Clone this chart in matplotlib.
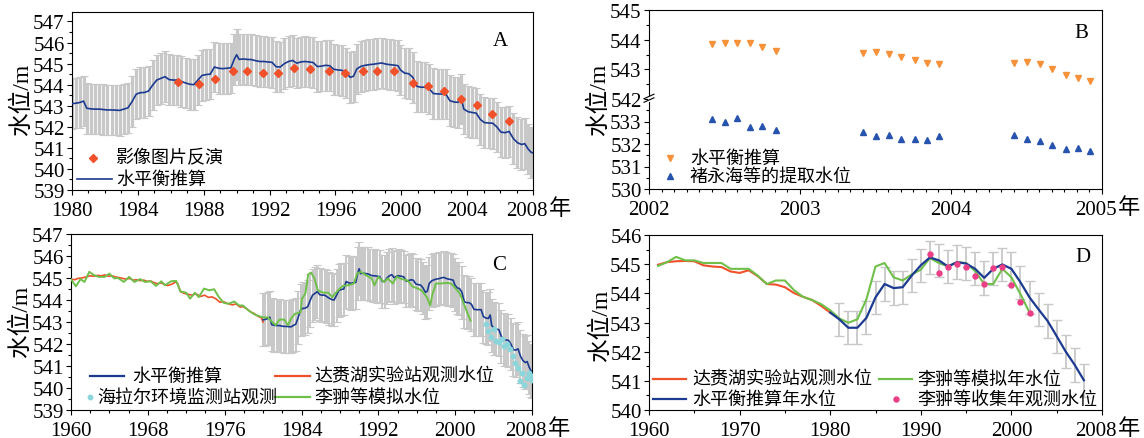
import matplotlib
matplotlib.use('Agg')
import matplotlib.pyplot as plt
from matplotlib.ticker import MultipleLocator, FixedLocator, FixedFormatter
from matplotlib.lines import Line2D
from matplotlib.transforms import ScaledTranslation

plt.rcParams['font.family'] = ['Liberation Serif', 'Noto Sans CJK SC']
plt.rcParams['axes.unicode_minus'] = False

# ------------------------------------------------------------------ data
# water-balance estimate (panels A and C)
bal_year = [1980.00, 1980.25, 1980.50, 1980.70, 1980.90, 1981.15, 1981.40, 1981.65, 1981.90,
            1982.15, 1982.40, 1982.65, 1982.90, 1983.15, 1983.40, 1983.65, 1983.90, 1984.15,
            1984.40, 1984.65, 1984.90, 1985.15, 1985.40, 1985.65, 1985.90, 1986.15, 1986.40,
            1986.65, 1986.90, 1987.15, 1987.40, 1987.65, 1987.90, 1988.15, 1988.40, 1988.65,
            1988.90, 1989.15, 1989.40, 1989.65, 1989.85, 1990.00, 1990.15, 1990.40, 1990.65,
            1990.90, 1991.15, 1991.40, 1991.65, 1991.90, 1992.15, 1992.40, 1992.65, 1992.90,
            1993.15, 1993.40, 1993.65, 1993.90, 1994.15, 1994.40, 1994.65, 1994.90, 1995.15,
            1995.40, 1995.65, 1995.90, 1996.15, 1996.40, 1996.65, 1996.90, 1997.10, 1997.30,
            1997.55, 1997.80, 1998.05, 1998.30, 1998.55, 1998.80, 1999.05, 1999.30, 1999.55,
            1999.80, 1999.95, 2000.20, 2000.45, 2000.70, 2000.95, 2001.20, 2001.45, 2001.70,
            2001.95, 2002.20, 2002.45, 2002.70, 2002.95, 2003.20, 2003.45, 2003.65, 2003.80,
            2004.05, 2004.30, 2004.55, 2004.80, 2005.05, 2005.30, 2005.55, 2005.80, 2006.05,
            2006.30, 2006.55, 2006.80, 2007.05, 2007.30, 2007.50, 2007.70, 2007.90, 2008.00]
bal_level = [543.10, 543.12, 543.16, 543.22, 542.88, 542.85, 542.84, 542.84, 542.82,
             542.80, 542.80, 542.79, 542.78, 542.84, 542.90, 543.20, 543.55, 543.62,
             543.63, 543.70, 543.98, 544.22, 544.30, 544.38, 544.24, 544.22, 544.22,
             544.15, 544.08, 544.02, 544.00, 544.22, 544.44, 544.48, 544.50, 544.84,
             544.78, 544.76, 544.78, 544.80, 545.20, 545.42, 545.20, 545.22, 545.20,
             545.19, 545.14, 545.10, 545.10, 545.08, 545.06, 544.85, 544.84, 545.00,
             545.10, 545.15, 545.02, 545.08, 545.10, 545.08, 545.05, 544.86, 544.88,
             544.92, 544.90, 544.73, 544.70, 544.68, 544.55, 544.35, 544.40, 544.75,
             544.87, 544.92, 544.95, 544.97, 545.00, 545.03, 544.98, 544.95, 544.93,
             544.90, 544.70, 544.55, 544.52, 544.35, 543.92, 543.88, 543.88, 543.80,
             543.58, 543.56, 543.56, 543.56, 543.24, 543.18, 543.16, 543.32, 542.84,
             542.72, 542.68, 542.65, 542.35, 542.20, 542.18, 542.17, 542.00, 541.75,
             541.72, 541.78, 541.45, 541.25, 541.16, 541.20, 540.95, 540.78, 540.76]
bal_err = 1.2

# image inversion (panel A)
img_year = [1986.45, 1987.73, 1988.66, 1989.78, 1990.65, 1991.58, 1992.49, 1993.49, 1994.46,
            1995.63, 1996.56, 1997.70, 1998.55, 1999.55, 2000.71, 2001.65, 2002.60, 2003.61,
            2004.61, 2005.54, 2006.54]
img_level = [544.12, 544.04, 544.25, 544.63, 544.66, 544.57, 544.54, 544.79, 544.76,
             544.66, 544.54, 544.63, 544.63, 544.65, 544.09, 543.96, 543.69, 543.34,
             543.03, 542.63, 542.28]

# panel B
b_year = [2002.42, 2002.50, 2002.58, 2002.67, 2002.75, 2002.84,
          2003.42, 2003.50, 2003.59, 2003.67, 2003.76, 2003.84, 2003.92,
          2004.42, 2004.50, 2004.59, 2004.67, 2004.76, 2004.84, 2004.92]
b_bal_level = [543.87, 543.90, 543.90, 543.90, 543.76, 543.62,
               543.54, 543.59, 543.53, 543.42, 543.32, 543.22, 543.17,
               543.20, 543.26, 543.17, 543.01, 542.80, 542.71, 542.62]
b_chu_level = [533.12, 533.00, 533.14, 532.76, 532.80, 532.64,
               532.54, 532.37, 532.40, 532.24, 532.24, 532.20, 532.35,
               532.40, 532.24, 532.13, 531.96, 531.80, 531.82, 531.67]

# panel C
c_red_year = [1960.0, 1960.4, 1960.7, 1961.1, 1961.6, 1962.0, 1962.4, 1962.8, 1963.2, 1963.5,
              1963.9, 1964.3, 1964.6, 1965.0, 1965.4, 1965.7, 1966.1, 1966.5, 1966.8, 1967.2,
              1967.6, 1967.9, 1968.3, 1968.7, 1969.0, 1969.4, 1969.8, 1970.1, 1970.5, 1970.9,
              1971.1, 1971.4, 1971.8, 1972.2, 1972.6, 1973.0, 1973.5, 1973.9, 1974.3, 1974.7,
              1975.1, 1975.5, 1975.9, 1976.3, 1976.8, 1977.2, 1977.6, 1977.9, 1978.3, 1978.7,
              1979.1, 1979.5, 1979.8, 1980.0]
c_red_level = [544.95, 544.92, 544.98, 545.00, 545.05, 545.10, 545.08, 545.12, 545.10, 545.14,
               545.08, 545.10, 545.05, 545.02, 544.98, 544.95, 544.98, 544.90, 544.92, 544.88,
               544.90, 544.85, 544.86, 544.78, 544.74, 544.78, 544.68, 544.66, 544.72, 544.82,
               544.75, 544.38, 544.30, 544.26, 544.22, 544.28, 544.16, 544.22, 544.12, 544.14,
               544.05, 543.90, 543.92, 543.84, 543.78, 543.82, 543.68, 543.70, 543.60, 543.46,
               543.38, 543.25, 543.20, 543.00]
c_green_year = [1960.0, 1960.3, 1960.5, 1961.0, 1961.4, 1961.9, 1962.4, 1962.9, 1963.5, 1964.0,
                1964.5, 1964.9, 1965.5, 1966.05, 1966.6, 1967.2, 1967.7, 1968.3, 1968.85, 1969.4,
                1969.8, 1970.4, 1970.95, 1971.4, 1972.0, 1972.4, 1972.9, 1973.3, 1973.85, 1974.4,
                1974.9, 1975.4, 1975.9, 1976.4, 1977.0, 1977.5, 1977.9, 1978.5, 1979.0, 1979.4,
                1980.0, 1980.5, 1980.9, 1981.3, 1981.7, 1982.2, 1982.6, 1982.9, 1983.3, 1983.9,
                1984.05, 1984.4, 1984.7, 1985.0, 1985.35, 1985.7, 1986.3, 1986.8, 1987.2, 1987.8,
                1988.3, 1988.9, 1989.45, 1989.8, 1990.2, 1990.7, 1991.3, 1991.6, 1992.0, 1992.6,
                1993.0, 1993.5, 1993.9, 1994.45, 1995.0, 1995.6, 1995.95, 1996.5, 1997.05, 1997.4,
                1997.6, 1998.0, 1998.55, 1999.1, 1999.55, 1999.9, 2000.5, 2000.9, 2001.25, 2001.6]
c_green_level = [544.95, 544.75, 544.62, 544.95, 544.82, 545.28, 545.13, 545.05, 545.05, 545.20,
                 544.98, 545.00, 544.82, 545.05, 544.82, 544.95, 544.82, 544.85, 544.64, 544.85,
                 544.67, 544.85, 544.87, 544.39, 544.33, 544.06, 544.33, 544.13, 544.52, 544.44,
                 544.49, 544.13, 543.87, 543.83, 543.93, 543.75, 543.75, 543.52, 543.37, 543.29,
                 543.21, 543.21, 543.02, 542.86, 543.11, 543.11, 542.86, 543.14, 543.37, 543.44,
                 544.06, 544.29, 545.16, 545.25, 544.98, 544.44, 544.33, 544.33, 544.13, 544.44,
                 544.64, 544.67, 544.75, 545.21, 545.28, 545.13, 544.98, 544.67, 545.05, 544.82,
                 544.98, 544.75, 545.05, 544.95, 544.90, 544.60, 544.55, 544.44, 544.13, 543.75,
                 544.21, 544.75, 544.75, 544.78, 544.75, 544.60, 544.29, 543.83, 543.44, 543.06]
c_cyan_year = [2003.17, 2003.47, 2003.73, 2004.0, 2004.3, 2004.6, 2004.85, 2005.1, 2005.4, 2005.7,
               2006.0, 2006.27, 2006.5, 2006.7, 2006.97, 2007.2, 2007.5, 2007.7, 2007.9, 2008.0]
c_cyan_level = [542.91, 542.60, 542.34, 542.68, 542.14, 542.07, 542.22, 541.91, 541.99, 541.76,
                541.45, 541.15, 540.92, 540.30, 540.69, 540.15, 540.46, 540.69, 540.53, 540.38]

# panel D (annual)
d_red_year = list(range(1961, 1981))
d_red_level = [544.98, 545.07, 545.10, 545.11, 545.10, 544.96, 544.92, 544.90, 544.75, 544.70,
               544.79, 544.59, 544.32, 544.30, 544.21, 544.01, 543.88, 543.77, 543.57, 543.34]
d_green_year = list(range(1961, 2003))
d_green_level = [544.94, 545.07, 545.25, 545.13, 545.13, 545.04, 545.04, 545.04, 544.84, 544.84,
                 544.84, 544.61, 544.32, 544.44, 544.44, 544.11, 543.88, 543.77, 543.63, 543.42,
                 543.14, 542.99, 543.11, 543.80, 544.92, 545.04, 544.55, 544.44, 544.65, 544.81,
                 545.21, 545.04, 544.92, 545.07, 545.04, 544.76, 544.32, 544.32, 544.84, 544.55,
                 543.97, 543.34]
d_blue_year = list(range(1980, 2009))
d_blue_level = [543.34, 543.11, 542.82, 542.82, 543.16, 543.86, 544.32, 544.18, 544.21, 544.61,
                544.96, 545.23, 545.13, 544.92, 545.07, 545.02, 544.84, 544.53, 544.84, 544.99,
                544.84, 544.38, 543.86, 543.45, 543.05, 542.53, 542.00, 541.54, 541.02]
d_blue_err = 0.57
d_pink_year = list(range(1991, 2003))
d_pink_level = [545.34, 544.69, 544.90, 544.99, 544.92, 544.58, 544.32, 544.88, 544.92, 544.30,
                543.72, 543.34]

# ------------------------------------------------------------------ style
BLUE = '#1c3a90'
GREY = '#c8c8c8'
RED = '#f0502a'
GREEN = '#6fc04a'
ORANGE = '#f7923a'
TRI_BLUE = '#2553ae'
CYAN = '#8ad6da'
PINK = '#ec3f86'

TICK_FS = 15
LEG_FS = 13
YL_FS = 17

W, H = 1144, 439
fig = plt.figure(figsize=(W / 100, H / 100), dpi=100)


def add_ax(x0, y0, x1, y1):
    return fig.add_axes([x0 / W, 1 - y1 / H, (x1 - x0) / W, (y1 - y0) / H])


def fx(px):
    return px / W


def fy(py):
    return 1 - py / H


def style(ax):
    ax.tick_params(which='both', direction='out', top=False, right=False,
                   labelsize=TICK_FS, width=0.8)
    ax.tick_params(axis='y', which='both', pad=1.5)
    ax.tick_params(axis='x', which='both', pad=3.8)
    ax.tick_params(which='major', length=3.8)
    ax.tick_params(which='minor', length=2.2)
    for s in ax.spines.values():
        s.set_linewidth(0.8)


def shift_last_xlabel(ax, dx_px=-6):
    labels = ax.get_xticklabels()
    lbl = labels[-1]
    lbl.set_transform(lbl.get_transform() + ScaledTranslation(dx_px / 100, 0, fig.dpi_scale_trans))


def leg_line(x0, x1, y, color, lw=1.6):
    fig.add_artist(Line2D([fx(x0), fx(x1)], [fy(y), fy(y)], color=color, lw=lw,
                          transform=fig.transFigure))


def leg_marker(x, y, marker, color, ms):
    fig.add_artist(Line2D([fx(x)], [fy(y)], marker=marker, color=color, ms=ms,
                          ls='none', transform=fig.transFigure))


def leg_text(x, y, s):
    fig.text(fx(x), fy(y), s, ha='left', va='center', fontsize=LEG_FS)


def year_suffix(ax, dx=27, dy=-19):
    ax.annotate('年', xy=(1, 0), xycoords='axes fraction',
                xytext=(dx * 0.72, dy * 0.72), textcoords='offset points',
                ha='center', va='center', fontsize=16)


def ylab(x, y, s='水位/m'):
    fig.text(fx(x), fy(y), s, rotation=90, ha='center', va='center', fontsize=YL_FS)


# ------------------------------------------------------------------ panel A
axA = add_ax(72, 13, 533, 191)
axA.errorbar(bal_year, bal_level, yerr=bal_err, fmt='none', ecolor=GREY,
             elinewidth=2.3, capsize=3, capthick=0.8, zorder=1)
axA.plot(bal_year, bal_level, color=BLUE, lw=1.2, zorder=3)
axA.plot(img_year, img_level, ls='none', marker='D', ms=4.2, color=RED, zorder=4)
axA.set_xlim(1980, 2008)
axA.set_ylim(539, 547.45)
axA.xaxis.set_major_locator(FixedLocator(list(range(1980, 2009, 4))))
axA.xaxis.set_minor_locator(MultipleLocator(1))
axA.yaxis.set_major_locator(MultipleLocator(1))
axA.yaxis.set_minor_locator(MultipleLocator(0.5))
style(axA)
shift_last_xlabel(axA)
year_suffix(axA)
fig.text(fx(500), fy(42), 'A', ha='center', va='center', fontsize=15)
ylab(22, 100)
leg_marker(93, 159, 'D', RED, 4.2)
leg_text(116, 159, '影像图片反演')
leg_line(77, 112, 180, BLUE, 1.2)
leg_text(116, 180, '水平衡推算')

# ------------------------------------------------------------------ panel B
axBu = add_ax(649, 11, 1102, 100)
axBl = add_ax(649, 100, 1102, 190)
for ax in (axBu, axBl):
    ax.plot(b_year, b_bal_level, ls='none', marker='v', ms=4.5, color=ORANGE)
    ax.plot(b_year, b_chu_level, ls='none', marker='^', ms=4.5, color=TRI_BLUE)
    ax.set_xlim(2002, 2005)
    ax.xaxis.set_minor_locator(MultipleLocator(1 / 12))
    style(ax)
axBu.set_ylim(542, 545)
axBu.yaxis.set_major_locator(FixedLocator([542, 543, 544, 545]))
axBu.yaxis.set_minor_locator(FixedLocator([542.5, 543.5, 544.5]))
axBu.spines['bottom'].set_visible(False)
axBu.tick_params(axis='x', which='both', bottom=False, labelbottom=False)
axBl.set_ylim(530, 534)
axBl.yaxis.set_major_locator(FixedLocator([530, 531, 532, 533]))
axBl.yaxis.set_minor_locator(FixedLocator([530.5, 531.5, 532.5, 533.5]))
axBl.spines['top'].set_visible(False)
axBl.xaxis.set_major_locator(FixedLocator([2002, 2003, 2004, 2005]))
axBl.xaxis.set_major_formatter(FixedFormatter(['2002', '2003', '2004', '2005']))
shift_last_xlabel(axBl)
year_suffix(axBl)
fig.text(fx(1081), fy(33), 'B', ha='center', va='center', fontsize=15)
ylab(599, 100)
# axis break mark
fig.add_artist(Line2D([fx(649), fx(649)], [fy(97.5), fy(101)], color='white', lw=2.0,
                      transform=fig.transFigure, zorder=10))
for off in (-1.8, 1.8):
    fig.add_artist(Line2D([fx(644), fx(654)], [fy(101.5 + off), fy(97 + off)], color='black',
                          lw=0.8, transform=fig.transFigure, zorder=11))
leg_marker(670, 159, 'v', ORANGE, 4.5)
leg_text(690, 159, '水平衡推算')
leg_marker(670, 177, '^', TRI_BLUE, 4.5)
leg_text(690, 177, '褚永海等的提取水位')

# ------------------------------------------------------------------ panel C
axC = add_ax(71, 235, 532, 411)
axC.errorbar(bal_year, bal_level, yerr=bal_err, fmt='none', ecolor=GREY,
             elinewidth=1.4, capsize=3, capthick=0.8, zorder=1)
axC.plot(c_red_year, c_red_level, color=RED, lw=1.2, zorder=2)
axC.plot(bal_year, bal_level, color=BLUE, lw=1.2, zorder=3)
axC.plot(c_green_year, c_green_level, color=GREEN, lw=1.4, zorder=4)
axC.plot(c_cyan_year, c_cyan_level, ls='none', marker='o', ms=3.2, color=CYAN, zorder=5)
axC.set_xlim(1960, 2008)
axC.set_ylim(539, 547)
axC.xaxis.set_major_locator(FixedLocator(list(range(1960, 2009, 8))))
axC.xaxis.set_minor_locator(MultipleLocator(2))
axC.yaxis.set_major_locator(MultipleLocator(1))
axC.yaxis.set_minor_locator(MultipleLocator(0.5))
style(axC)
shift_last_xlabel(axC)
year_suffix(axC)
fig.text(fx(499), fy(266), 'C', ha='center', va='center', fontsize=15)
ylab(21, 322)
leg_line(90, 124, 377, BLUE, 1.6)
leg_text(132, 377, '水平衡推算')
leg_line(275, 310, 377, RED, 1.6)
leg_text(314, 377, '达赉湖实验站观测水位')
leg_marker(90, 398, 'o', CYAN, 3.2)
leg_text(97, 398, '海拉尔环境监测站观测')
leg_line(275, 310, 398, GREEN, 1.6)
leg_text(314, 398, '李翀等模拟水位')

# ------------------------------------------------------------------ panel D
axD = add_ax(649, 236, 1102, 411)
axD.errorbar(d_blue_year[1:], d_blue_level[1:], yerr=d_blue_err, fmt='none', ecolor=GREY,
             elinewidth=1.3, capsize=3.5, capthick=1.0, zorder=1)
axD.plot(d_red_year, d_red_level, color=RED, lw=1.5, zorder=2)
axD.plot(d_green_year, d_green_level, color=GREEN, lw=1.5, zorder=3)
axD.plot(d_blue_year, d_blue_level, color=BLUE, lw=1.6, zorder=4)
axD.plot(d_pink_year, d_pink_level, ls='none', marker='o', ms=3.6, color=PINK, zorder=5)
axD.set_xlim(1960, 2010)
axD.set_ylim(540, 546)
axD.xaxis.set_major_locator(FixedLocator([1960, 1970, 1980, 1990, 2000, 2010]))
axD.xaxis.set_major_formatter(FixedFormatter(['1960', '1970', '1980', '1990', '2000', '2008']))
axD.xaxis.set_minor_locator(MultipleLocator(5))
axD.yaxis.set_major_locator(MultipleLocator(1))
axD.yaxis.set_minor_locator(MultipleLocator(0.5))
style(axD)
shift_last_xlabel(axD)
year_suffix(axD)
fig.text(fx(1083), fy(258), 'D', ha='center', va='center', fontsize=15)
ylab(601, 326)
leg_line(653, 686, 380, RED, 1.6)
leg_text(692, 380, '达赉湖实验站观测水位')
leg_line(879, 912, 380, GREEN, 1.6)
leg_text(917, 380, '李翀等模拟年水位')
leg_line(653, 686, 400, BLUE, 1.6)
leg_text(692, 400, '水平衡推算年水位')
leg_marker(896, 400, 'o', PINK, 3.6)
leg_text(917, 400, '李翀等收集年观测水位')

fig.savefig('out.png', dpi=100)
